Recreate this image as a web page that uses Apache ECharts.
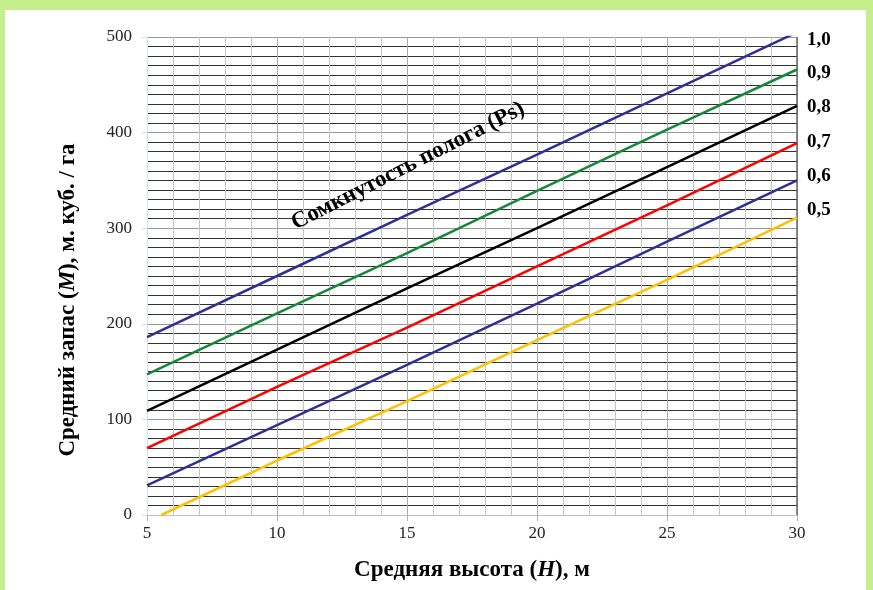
<!DOCTYPE html>
<html>
<head>
<meta charset="utf-8">
<script src="https://cdn.jsdelivr.net/npm/echarts@6/dist/echarts.min.js"></script>
<style>
  html, body { margin: 0; padding: 0; background: #c4ef8c; }
  #frame { position: absolute; left: 5px; top: 10px; width: 861px; height: 580px; background: #fff; }
  #chart { position: absolute; left: 0; top: 0; width: 873px; height: 590px; }
</style>
</head>
<body>
<div id="frame"></div>
<div id="chart"></div>
<script>
// средняя высота H, м
var heights = [5, 10, 15, 20, 25, 30];
// запас M при разной сомкнутости полога
var m10 = [186, 250, 314, 377, 441, 505];
var m09 = [147, 211, 274, 339, 403, 466];
var m08 = [109, 173, 237, 300, 364, 428];
var m07 = [70, 134, 196, 260, 324, 389];
var m06 = [31, 94, 157, 221, 286, 350];
var m05x = [5.55, 10, 15, 20, 25, 30];
var m05 = [0, 57, 119, 183, 246, 311];
var psLabels = ['1,0', '0,9', '0,8', '0,7', '0,6', '0,5'];

var serif = '"Liberation Serif", "DejaVu Serif", serif';

function pairs(xs, ys) {
    return xs.map(function (x, i) { return [x, ys[i]]; });
}

function mkLine(name, xs, ys, color) {
    return {
        name: name,
        type: 'line',
        data: pairs(xs, ys),
        symbol: 'none',
        clip: true,
        lineStyle: { color: color, width: 2.5 },
        z: 5
    };
}

var chart = echarts.init(document.getElementById('chart'));

// подписи справа
var labelY = [42, 75, 109, 144, 178, 212];
var graphics = psLabels.map(function (t, i) {
    return {
        type: 'text',
        left: 807,
        top: labelY[i] - 11,
        style: { text: t, fontFamily: serif, fontWeight: 'bold', fontSize: 19, fill: '#000' }
    };
});
graphics.push({
    type: 'text',
    x: 408,
    y: 166,
    rotation: 0.47,
    style: {
        text: 'Сомкнутость полога (Ps)',
        fontFamily: serif,
        fontWeight: 'bold',
        fontStyle: 'normal',
        fontSize: 23,
        fill: '#000',
        align: 'center',
        verticalAlign: 'middle'
    },
    z: 10
});
// подпись оси Y
graphics.push({
    type: 'text',
    x: 68,
    y: 300,
    rotation: Math.PI / 2,
    style: {
        text: '{b|Средний запас (}{i|М}{b|), м. куб. / га}',
        align: 'center',
        verticalAlign: 'middle',
        rich: {
            b: { fontFamily: serif, fontWeight: 'bold', fontSize: 23, fill: '#000' },
            i: { fontFamily: serif, fontWeight: 'bold', fontStyle: 'italic', fontSize: 23, fill: '#000' }
        }
    }
});

chart.setOption({
    animation: false,
    backgroundColor: 'transparent',
    grid: { left: 147, right: 76, top: 37, bottom: 75 },
    xAxis: {
        type: 'value',
        min: 5,
        max: 30,
        interval: 5,
        name: '{b|Средняя высота (}{i|H}{b|), м}',
        nameLocation: 'middle',
        nameGap: 44,
        nameTextStyle: {
            rich: {
                b: { fontFamily: serif, fontWeight: 'bold', fontSize: 23, color: '#000' },
                i: { fontFamily: serif, fontWeight: 'bold', fontStyle: 'italic', fontSize: 23, color: '#000' }
            }
        },
        axisLine: { show: true, lineStyle: { color: '#c0c0c0', width: 1 } },
        axisTick: { show: true, length: 6, lineStyle: { color: '#b0b0b0' } },
        axisLabel: { fontFamily: serif, fontSize: 17, color: '#222', margin: 10 },
        splitLine: { show: true, lineStyle: { color: '#aaaaaa', width: 1 } },
        minorTick: { show: false, splitNumber: 5 },
        minorSplitLine: { show: true, lineStyle: { color: '#c4c4c4', width: 1 } }
    },
    yAxis: {
        type: 'value',
        min: 0,
        max: 500,
        interval: 100,
        axisLine: { show: true, lineStyle: { color: '#cfe3ec', width: 1 } },
        axisTick: { show: true, length: 5, lineStyle: { color: '#cfe3ec' } },
        axisLabel: { fontFamily: serif, fontSize: 17, color: '#222', margin: 15 },
        splitLine: { show: true, lineStyle: { color: '#999999', width: 1 } },
        minorTick: { show: false, splitNumber: 10 },
        minorSplitLine: { show: true, lineStyle: { color: '#333333', width: 1 } }
    },
    graphic: graphics.concat([
        { type: 'line', shape: { x1: 797, y1: 37, x2: 797, y2: 515 }, style: { stroke: '#666', lineWidth: 1.5 }, z: 4 }
    ]),
    series: [
        mkLine('1,0', heights, m10, '#2e3192'),
        mkLine('0,9', heights, m09, '#16873a'),
        mkLine('0,8', heights, m08, '#000000'),
        mkLine('0,7', heights, m07, '#ff0000'),
        mkLine('0,6', heights, m06, '#2e3192'),
        mkLine('0,5', m05x, m05, '#ffc000')
    ]
});
</script>
</body>
</html>
